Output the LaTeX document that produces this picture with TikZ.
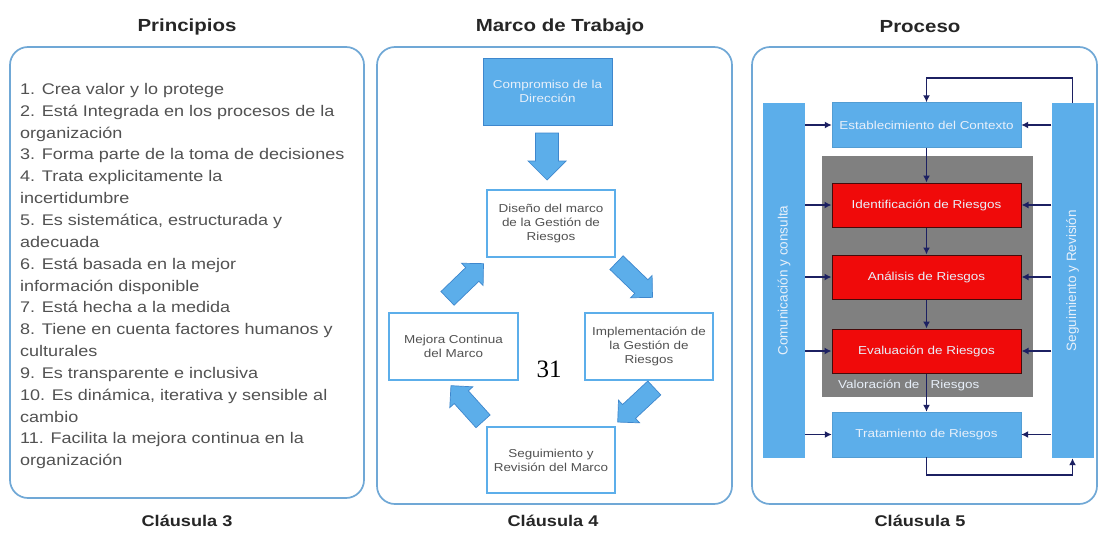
\documentclass[tikz,border=0pt]{standalone}
\usepackage{fontspec}
\setmainfont[FakeStretch=1.17]{Liberation Sans}
\newfontfamily\plainfont{Liberation Sans}
\newfontfamily\numfont{Liberation Serif}
\usetikzlibrary{arrows.meta}
\definecolor{panelblue}{RGB}{112,168,214}
\definecolor{boxblue}{RGB}{92,174,234}
\definecolor{boxborder}{RGB}{62,135,205}
\definecolor{txtgray}{RGB}{82,82,82}
\definecolor{riskred}{RGB}{240,10,10}
\definecolor{riskborder}{RGB}{70,10,10}
\definecolor{navy}{RGB}{28,32,98}
\definecolor{valgray}{RGB}{128,128,128}
\definecolor{lighttxt}{RGB}{232,240,250}
\tikzset{
  panel/.style={draw=panelblue, line width=1.7pt, rounded corners=18pt},
  title/.style={font=\bfseries\fontsize{17.5}{19}\selectfont, text=black!85},
  clause/.style={font=\bfseries\fontsize{15.5}{17}\selectfont, text=black!85},
  listtext/.style={anchor=north west, inner sep=0pt, align=left, text=txtgray,
    font=\fontsize{15.4}{21.85}\selectfont},
  bluebox/.style={draw=boxborder, fill=boxblue, text=lighttxt, align=center,
    font=\fontsize{11.5}{13.5}\selectfont, inner sep=1pt},
  whitebox/.style={draw=boxblue, line width=1.2pt, fill=white, text=txtgray, align=center,
    font=\fontsize{11.5}{14}\selectfont, inner sep=1pt},
  redbox/.style={draw=riskborder, line width=1pt, fill=riskred, text=lighttxt, align=center,
    font=\fontsize{11.5}{13}\selectfont, minimum width=189pt, minimum height=44pt},
  procbox/.style={fill=boxblue, draw=boxblue!90!black, text=lighttxt, align=center,
    font=\fontsize{11.5}{13}\selectfont, minimum width=189pt, minimum height=45pt},
  sidebar/.style={fill=boxblue, draw=none, minimum width=42pt, minimum height=355pt},
  sidetext/.style={rotate=90, text=lighttxt, font=\plainfont\fontsize{13.5}{15}\selectfont},
  blockarrowpath/.style={draw=boxborder, fill=boxblue, line width=0.7pt, line join=miter},
  conn/.style={draw=navy, line width=1.8pt, -{Latex[length=7pt,width=7pt]}},
}
% block arrow: center, angle, length, shaft width, head width, head length
\newcommand{\blockarr}[6]{%
  \begin{scope}[shift={#1}, rotate=#2]
    \draw[blockarrowpath] (-#3/2,-#4/2) -- (#3/2-#6,-#4/2) -- (#3/2-#6,-#5/2) -- (#3/2,0)
      -- (#3/2-#6,#5/2) -- (#3/2-#6,#4/2) -- (-#3/2,#4/2) -- cycle;
  \end{scope}}
\begin{document}
\begin{tikzpicture}[x=1pt,y=-1pt]
\useasboundingbox[fill=white] (0,0) rectangle (1100,533);

% titles
\node[title] (t1) at (187,27) {Principios};
\node[title] (t2) at (560,27) {Marco de Trabajo};
\node[title] (t3) at (920,27) {Proceso};
\node[clause] (c1) at (187,521) {Cláusula 3};
\node[clause] (c2) at (553,521) {Cláusula 4};
\node[clause] (c3) at (920,521) {Cláusula 5};

% panels
\draw[panel] (10,47) rectangle (364,498);
\draw[panel] (377,47) rectangle (732,504);
\draw[panel] (752,47) rectangle (1097,504);

% left list
\node[listtext] (list) at (20,83) {1. Crea valor y lo protege\\
2. Está Integrada en los procesos de la\\
organización\\
3. Forma parte de la toma de decisiones\\
4. Trata explicitamente la\\
incertidumbre\\
5. Es sistemática, estructurada y\\
adecuada\\
6. Está basada en la mejor\\
información disponible\\
7. Está hecha a la medida\\
8. Tiene en cuenta factores humanos y\\
culturales\\
9. Es transparente e inclusiva\\
10. Es dinámica, iterativa y sensible al\\
cambio\\
11. Facilita la mejora continua en la\\
organización};

% middle panel
\node[bluebox, minimum width=129pt, minimum height=67pt] (comp) at (547.5,91.5) {Compromiso de la\\Dirección};
\node[whitebox, minimum width=128pt, minimum height=67pt] (dis) at (551,223.5) {Diseño del marco\\de la Gestión de\\Riesgos};
\node[whitebox, minimum width=129pt, minimum height=67pt] (mej) at (453.5,346.5) {Mejora Continua\\del Marco};
\node[whitebox, minimum width=128pt, minimum height=67pt] (imp) at (649,346.5) {Implementación de\\la Gestión de\\Riesgos};
\node[whitebox, minimum width=128pt, minimum height=66pt] (seg) at (551,460) {Seguimiento y\\Revisión del Marco};
\node[font=\numfont\fontsize{25}{27}\selectfont, text=black, inner sep=0pt] (num) at (549,369) {31};

\blockarr{(547,156.5)}{-90}{47}{23}{38}{19}
\blockarr{(634.5,280)}{-44}{50}{19}{31}{15.5}
\blockarr{(636,405)}{-137}{50}{19}{31}{15.5}
\blockarr{(467,403.5)}{132}{48}{19}{31}{15.5}
\blockarr{(465.5,281)}{44}{50}{19}{31}{15.5}

% right panel
\node[sidebar] (com) at (784,280.5) {};
\node[sidetext] (comtxt) at (com.center) {Comunicación y consulta};
\node[sidebar] (sr) at (1072.5,280.5) {};
\node[sidetext] (srtxt) at (sr.center) {Seguimiento y Revisión};

\fill[valgray] (822,155.5) rectangle (1033,397);
\node[procbox] (est) at (926.5,125) {Establecimiento del Contexto};
\node[redbox] (ide) at (926.5,205) {Identificación de Riesgos};
\node[redbox] (ana) at (926.5,277) {Análisis de Riesgos};
\node[redbox] (eva) at (926.5,351) {Evaluación de Riesgos};
\node[procbox] (tra) at (926.5,434.5) {Tratamiento de Riesgos};
\node[text=lighttxt, font=\fontsize{11.5}{13}\selectfont, anchor=west, inner sep=0pt] (val) at (838,385) {Valoración de\ \ \ Riesgos};

\foreach \n in {est,ide,ana,eva,tra}{
  \draw[conn] (com.east |- \n.west) -- (\n.west);
  \draw[conn] (sr.west |- \n.east) -- (\n.east);
}
\draw[conn] (est.south) -- (ide.north);
\draw[conn] (ide.south) -- (ana.north);
\draw[conn] (ana.south) -- (eva.north);
\draw[conn] (eva.south) -- (tra.north);
\draw[conn] (sr.north) -- ++(0,-25) -| (est.north);
\draw[conn] (tra.south) -- ++(0,18) -| (sr.south);
\end{tikzpicture}
\end{document}
